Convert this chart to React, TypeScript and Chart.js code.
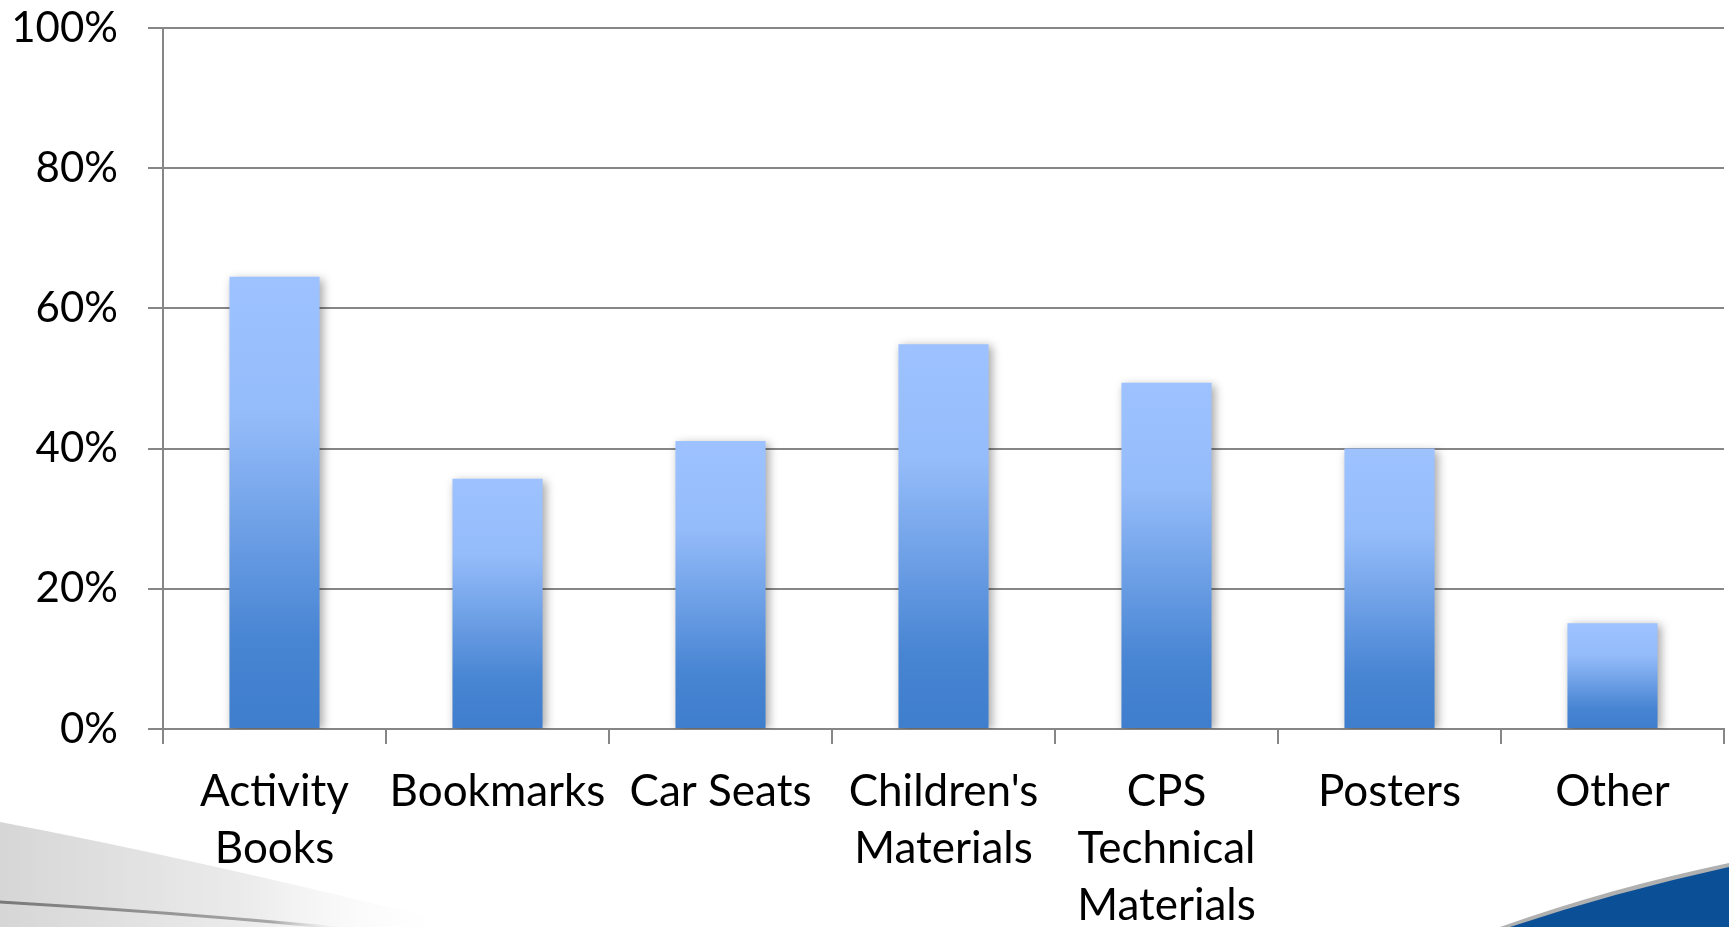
import React, { useEffect, useRef } from "react";
import { Chart, registerables } from "chart.js";

Chart.register(...registerables);

// Share of respondents per material type
const categories: (string | string[])[] = [
  ["Activity", "Books"],
  "Bookmarks",
  "Car Seats",
  ["Children's", "Materials"],
  ["CPS", "Technical", "Materials"],
  "Posters",
  "Other",
];
const shares: number[] = [64.5, 35.7, 41.1, 54.9, 49.4, 40.0, 15.1];
const yTicks: number[] = [0, 20, 40, 60, 80, 100];

const GRID = "rgb(134,134,134)";
const FONT = "Lato, 'Open Sans', sans-serif";

// Slide backdrop: grey swoosh at bottom-left, blue wedge at bottom-right
const backdrop = {
  id: "backdrop",
  beforeDraw(chart: Chart) {
    const { ctx, width, height } = chart;
    ctx.save();
    ctx.fillStyle = "#ffffff";
    ctx.fillRect(0, 0, width, height);

    // grey swoosh
    const g = ctx.createLinearGradient(0, 0, 460, 0);
    g.addColorStop(0, "rgba(214,214,214,1)");
    g.addColorStop(0.55, "rgba(236,236,236,1)");
    g.addColorStop(1, "rgba(255,255,255,0)");
    ctx.beginPath();
    ctx.moveTo(0, 822);
    ctx.quadraticCurveTo(200, 860, 470, height);
    ctx.lineTo(0, height);
    ctx.closePath();
    ctx.fillStyle = g;
    ctx.fill();

    const lg = ctx.createLinearGradient(0, 0, 340, 0);
    lg.addColorStop(0, "rgba(120,120,120,1)");
    lg.addColorStop(0.8, "rgba(150,150,150,0.8)");
    lg.addColorStop(1, "rgba(200,200,200,0)");
    ctx.beginPath();
    ctx.moveTo(0, 902);
    ctx.quadraticCurveTo(170, 912, 340, height + 1);
    ctx.strokeStyle = lg;
    ctx.lineWidth = 3;
    ctx.stroke();

    // blue wedge with grey rim
    ctx.beginPath();
    ctx.moveTo(1500, height);
    ctx.quadraticCurveTo(1610, 888, width, 863);
    ctx.lineTo(width, height);
    ctx.closePath();
    ctx.fillStyle = "rgb(176,176,176)";
    ctx.fill();

    ctx.beginPath();
    ctx.moveTo(1510, height);
    ctx.quadraticCurveTo(1615, 892, width, 867);
    ctx.lineTo(width, height);
    ctx.closePath();
    ctx.fillStyle = "rgb(11,79,150)";
    ctx.fill();
    ctx.restore();
  },
};

// Soft drop shadow under the bars
const barShadow = {
  id: "barShadow",
  beforeDatasetsDraw(chart: Chart) {
    const ctx = chart.ctx;
    ctx.save();
    ctx.shadowColor = "rgba(0,0,0,0.35)";
    ctx.shadowBlur = 9;
    ctx.shadowOffsetX = 3;
    ctx.shadowOffsetY = 2;
  },
  afterDatasetsDraw(chart: Chart) {
    chart.ctx.restore();
  },
};

function barFill(c: any) {
  const chart = c.chart;
  if (!chart.chartArea || c.type !== "data") return "rgb(110,156,226)";
  const y = chart.scales.y;
  const top = y.getPixelForValue(c.raw);
  const base = y.getPixelForValue(0);
  const g = chart.ctx.createLinearGradient(0, top, 0, base);
  g.addColorStop(0, "rgb(157,194,255)");
  g.addColorStop(0.3, "rgb(149,188,250)");
  g.addColorStop(0.8, "rgb(72,133,211)");
  g.addColorStop(1, "rgb(62,126,204)");
  return g;
}

export default function App() {
  const ref = useRef<HTMLCanvasElement | null>(null);

  useEffect(() => {
    if (!ref.current) return;
    const chart = new Chart(ref.current, {
      type: "bar",
      data: {
        labels: categories,
        datasets: [
          {
            data: shares,
            backgroundColor: barFill,
            borderWidth: 0,
            categoryPercentage: 1,
            barPercentage: 0.404,
          },
        ],
      },
      options: {
        responsive: false,
        animation: false,
        layout: { padding: { top: 28, right: 5, left: 0, bottom: 0 } },
        plugins: {
          legend: { display: false },
          tooltip: { enabled: false },
        },
        scales: {
          x: {
            grid: {
              offset: true,
              drawOnChartArea: false,
              drawTicks: true,
              tickLength: 15,
              color: GRID,
              lineWidth: 2,
            },
            border: { display: true, color: GRID, width: 2 },
            ticks: {
              color: "#000",
              padding: 19,
              maxRotation: 0,
              autoSkip: false,
              font: { family: FONT, size: 44, lineHeight: 1.3 },
            },
            afterFit: (s: any) => {
              s.height = 198;
            },
          },
          y: {
            min: 0,
            max: 100,
            afterBuildTicks: (s: any) => {
              s.ticks = yTicks.map((v) => ({ value: v }));
            },
            grid: {
              color: GRID,
              lineWidth: 2,
              tickLength: 15,
            },
            border: { display: true, color: GRID, width: 2 },
            ticks: {
              color: "#000",
              padding: 30,
              font: { family: FONT, size: 42, lineHeight: 1.0 },
              callback: (v: any) => `${v}%`,
            },
            afterFit: (s: any) => {
              s.width = 163;
              s.paddingTop = 0;
              s.paddingBottom = 0;
            },
          },
        },
      },
      plugins: [backdrop, barShadow],
    });
    return () => chart.destroy();
  }, []);

  return (
    <div style={{ position: "fixed", left: 0, top: 0, width: 1729, height: 927, background: "#fff" }}>
      <canvas ref={ref} width={1729} height={927} style={{ display: "block" }} />
    </div>
  );
}
